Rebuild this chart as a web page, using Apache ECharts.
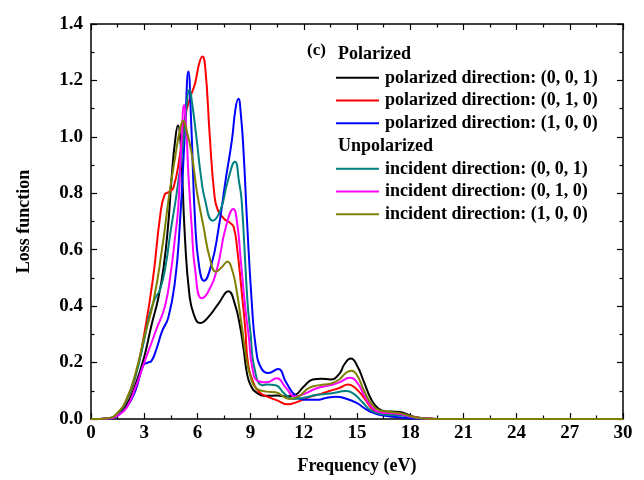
<!DOCTYPE html>
<html>
<head>
<meta charset="utf-8">
<script src="https://cdn.jsdelivr.net/npm/echarts@6/dist/echarts.min.js"></script>
<style>html,body{margin:0;padding:0;background:#fff}#c{width:644px;height:480px}</style>
</head>
<body>
<div id="c"></div>
<script>
// ---- data (frequency in eV, loss function) ----
const xTicks = [0, 3, 6, 9, 12, 15, 18, 21, 24, 27, 30];
const yTicks = [0.0, 0.2, 0.4, 0.6, 0.8, 1.0, 1.2, 1.4];

const seriesNames = [
  'polarized direction: (0, 0, 1)',
  'polarized direction: (0, 1, 0)',
  'polarized direction: (1, 0, 0)',
  'incident direction: (0, 0, 1)',
  'incident direction: (0, 1, 0)',
  'incident direction: (1, 0, 0)'
];

const freqPol001 = [0,1,1.5,2,2.5,3,3.4,3.8,4.1,4.36,4.55,4.75,4.9,5.05,5.3,5.55,5.8,6.15,6.6,7.2,7.75,8.1,8.4,8.6,8.8,9.0,9.3,9.9,10.5,11,11.5,12,12.5,13,13.5,14,14.3,14.65,15,15.4,15.8,16.2,16.6,17.2,17.6,18.2,19,20,30];
const lossPol001 = [0,0.002,0.016,0.05,0.12,0.22,0.33,0.43,0.54,0.695,0.86,0.99,1.04,0.98,0.64,0.44,0.37,0.34,0.36,0.41,0.453,0.41,0.33,0.25,0.16,0.12,0.095,0.082,0.083,0.08,0.085,0.115,0.14,0.143,0.14,0.16,0.195,0.214,0.19,0.13,0.07,0.037,0.027,0.026,0.022,0.008,0.002,0,0];

const freqPol010 = [0,1,1.5,2,2.5,3,3.5,3.9,4.15,4.4,4.65,5,5.3,5.6,5.87,6.1,6.28,6.45,6.7,6.95,7.15,7.5,7.85,8.05,8.25,8.5,8.7,8.85,9.15,9.5,9.9,10.5,11.1,11.6,12.35,13,13.5,14,14.5,14.9,15.4,15.8,16.2,16.8,17.4,18,19,20,30];
const lossPol010 = [0,0.003,0.02,0.065,0.15,0.3,0.5,0.72,0.795,0.805,0.82,0.93,1.07,1.14,1.19,1.26,1.285,1.24,1.0,0.8,0.74,0.71,0.695,0.68,0.6,0.45,0.32,0.2,0.13,0.095,0.08,0.066,0.052,0.06,0.079,0.09,0.1,0.11,0.122,0.11,0.075,0.04,0.022,0.017,0.016,0.008,0.002,0,0];

const freqPol100 = [0,1,1.5,2,2.5,2.95,3.2,3.4,3.7,4.0,4.36,4.74,5.0,5.3,5.49,5.65,5.87,6.1,6.37,6.8,7.18,7.6,7.95,8.15,8.31,8.45,8.6,8.8,9.06,9.3,9.6,10,10.55,11,11.5,12.1,12.7,13.3,13.8,14.4,15,15.5,16,16.5,17,18,19,30];
const lossPol100 = [0,0.001,0.012,0.04,0.1,0.19,0.2,0.205,0.25,0.31,0.36,0.49,0.68,1.02,1.232,1.05,0.7,0.54,0.49,0.55,0.67,0.85,0.99,1.1,1.135,1.08,0.95,0.7,0.42,0.25,0.18,0.163,0.177,0.13,0.085,0.068,0.068,0.075,0.079,0.072,0.056,0.035,0.02,0.012,0.008,0.003,0,0];

const freqInc001 = [0,1,1.5,2,2.5,3,3.3,3.6,3.9,4.2,4.5,4.83,5.2,5.4,5.55,5.7,5.96,6.2,6.43,6.86,7.3,7.7,8.12,8.35,8.5,8.82,9.0,9.2,9.65,9.9,10.4,10.9,11.4,12,12.7,13.5,14.4,14.8,15.3,15.8,16.3,17,17.6,18.2,19,20,30];
const lossInc001 = [0,0.003,0.02,0.065,0.15,0.28,0.37,0.425,0.46,0.54,0.67,0.8,0.98,1.12,1.168,1.12,0.99,0.86,0.777,0.703,0.74,0.84,0.912,0.84,0.77,0.42,0.3,0.185,0.12,0.122,0.12,0.09,0.071,0.075,0.085,0.09,0.099,0.09,0.06,0.03,0.018,0.014,0.012,0.005,0.001,0,0];

const freqInc010 = [0,1,1.5,2,2.5,3,3.33,3.7,4.17,4.5,4.75,4.92,5.1,5.25,5.38,5.49,5.68,5.87,6.24,6.6,7.1,7.6,8.03,8.25,8.45,8.69,8.9,9.1,9.4,9.9,10.47,11,11.5,12,12.7,13.5,14,14.6,15,15.4,15.8,16.3,17,17.5,18.2,19,20,30];
const lossInc010 = [0,0.002,0.012,0.04,0.11,0.2,0.256,0.32,0.4,0.52,0.65,0.75,0.98,1.113,1.02,0.87,0.68,0.53,0.428,0.45,0.53,0.68,0.744,0.69,0.56,0.4,0.29,0.18,0.135,0.13,0.144,0.11,0.08,0.088,0.108,0.12,0.13,0.146,0.13,0.085,0.045,0.024,0.02,0.017,0.006,0.001,0,0];

const freqInc100 = [0,1,1.5,2,2.5,3,3.5,4,4.4,4.75,5.0,5.2,5.4,5.68,5.96,6.35,6.7,7.05,7.4,7.69,7.95,8.2,8.5,8.75,9.0,9.3,9.9,10.4,11.2,11.7,12.3,12.9,13.5,14,14.4,14.7,15.0,15.4,15.8,16.3,17,17.5,18.2,19,20,30];
const lossInc100 = [0,0.003,0.022,0.07,0.16,0.29,0.41,0.6,0.79,0.93,1.02,1.057,1.02,0.94,0.81,0.68,0.57,0.522,0.54,0.558,0.53,0.46,0.33,0.22,0.15,0.11,0.097,0.095,0.071,0.08,0.11,0.12,0.125,0.14,0.165,0.171,0.155,0.1,0.055,0.03,0.024,0.02,0.007,0.001,0,0];

const colors = ['#000000', '#ff0000', '#0000ff', '#008080', '#ff00ff', '#808000'];
const freqs = [freqPol001, freqPol010, freqPol100, freqInc001, freqInc010, freqInc100];
const losses = [lossPol001, lossPol010, lossPol100, lossInc001, lossInc010, lossInc100];

// ---- chart ----
const FONT = "'Liberation Serif', 'Times New Roman', serif";
const chart = echarts.init(document.getElementById('c'), null, {renderer: 'canvas'});

const series = seriesNames.map((name, i) => ({
  name: name,
  type: 'line',
  xAxisIndex: 0,
  yAxisIndex: 0,
  data: freqs[i].map((f, j) => [f, losses[i][j]]),
  symbol: 'none',
  smooth: 0.5,
  lineStyle: {color: colors[i], width: 2},
  itemStyle: {color: colors[i]},
  z: 2 + i
}));

const axisCommon = {
  axisLine: {show: true, onZero: false, lineStyle: {color: '#000', width: 1.5}},
  axisTick: {show: true, inside: true, length: 6, lineStyle: {color: '#000', width: 1.2}},
  minorTick: {show: true, splitNumber: 2, length: 3.5, lineStyle: {color: '#000', width: 1.2}},
  splitLine: {show: false},
  minorSplitLine: {show: false}
};

const legendCommon = {
  orient: 'vertical', left: 336, padding: 0,
  icon: 'rect', itemWidth: 43, itemHeight: 2, itemGap: 0,
  textStyle: {color: '#000', fontFamily: FONT, fontWeight: 'bold', fontSize: 18, lineHeight: 22.7, padding: [0, 0, 0, 1]},
  selectedMode: false
};

const option = {
  animation: false,
  backgroundColor: '#fff',
  grid: {left: 91, right: 21, top: 24, bottom: 61, containLabel: false},
  xAxis: [
    Object.assign({}, axisCommon, {
      type: 'value', position: 'bottom', min: xTicks[0], max: xTicks[xTicks.length - 1], interval: 3,
      axisLabel: {color: '#000', fontFamily: FONT, fontWeight: 'bold', fontSize: 19, margin: 5},
      name: 'Frequency (eV)', nameLocation: 'middle', nameGap: 38,
      nameTextStyle: {color: '#000', fontFamily: FONT, fontWeight: 'bold', fontSize: 18}
    }),
    Object.assign({}, axisCommon, {
      type: 'value', position: 'top', min: xTicks[0], max: xTicks[xTicks.length - 1], interval: 3,
      axisLabel: {show: false}
    })
  ],
  yAxis: [
    Object.assign({}, axisCommon, {
      type: 'value', position: 'left', min: yTicks[0], max: yTicks[yTicks.length - 1], interval: 0.2,
      axisLabel: {color: '#000', fontFamily: FONT, fontWeight: 'bold', fontSize: 19, margin: 8,
        formatter: v => v.toFixed(1)},
      name: 'Loss function', nameLocation: 'middle', nameGap: 58,
      nameTextStyle: {color: '#000', fontFamily: FONT, fontWeight: 'bold', fontSize: 18}
    }),
    Object.assign({}, axisCommon, {
      type: 'value', position: 'right', min: yTicks[0], max: yTicks[yTicks.length - 1], interval: 0.2,
      axisLabel: {show: false}
    })
  ],
  legend: [
    Object.assign({}, legendCommon, {data: seriesNames.slice(0, 3), top: 66.5}),
    Object.assign({}, legendCommon, {data: seriesNames.slice(3, 6), top: 157.5})
  ],
  graphic: [
    {type: 'text', left: 307, top: 42, style: {text: '(c)', fill: '#000', font: "bold 17px " + FONT}},
    {type: 'text', left: 338, top: 45, style: {text: 'Polarized', fill: '#000', font: "bold 18px " + FONT}},
    {type: 'text', left: 338, top: 137, style: {text: 'Unpolarized', fill: '#000', font: "bold 18px " + FONT}}
  ],
  series: series
};
chart.setOption(option);
</script>
</body>
</html>
